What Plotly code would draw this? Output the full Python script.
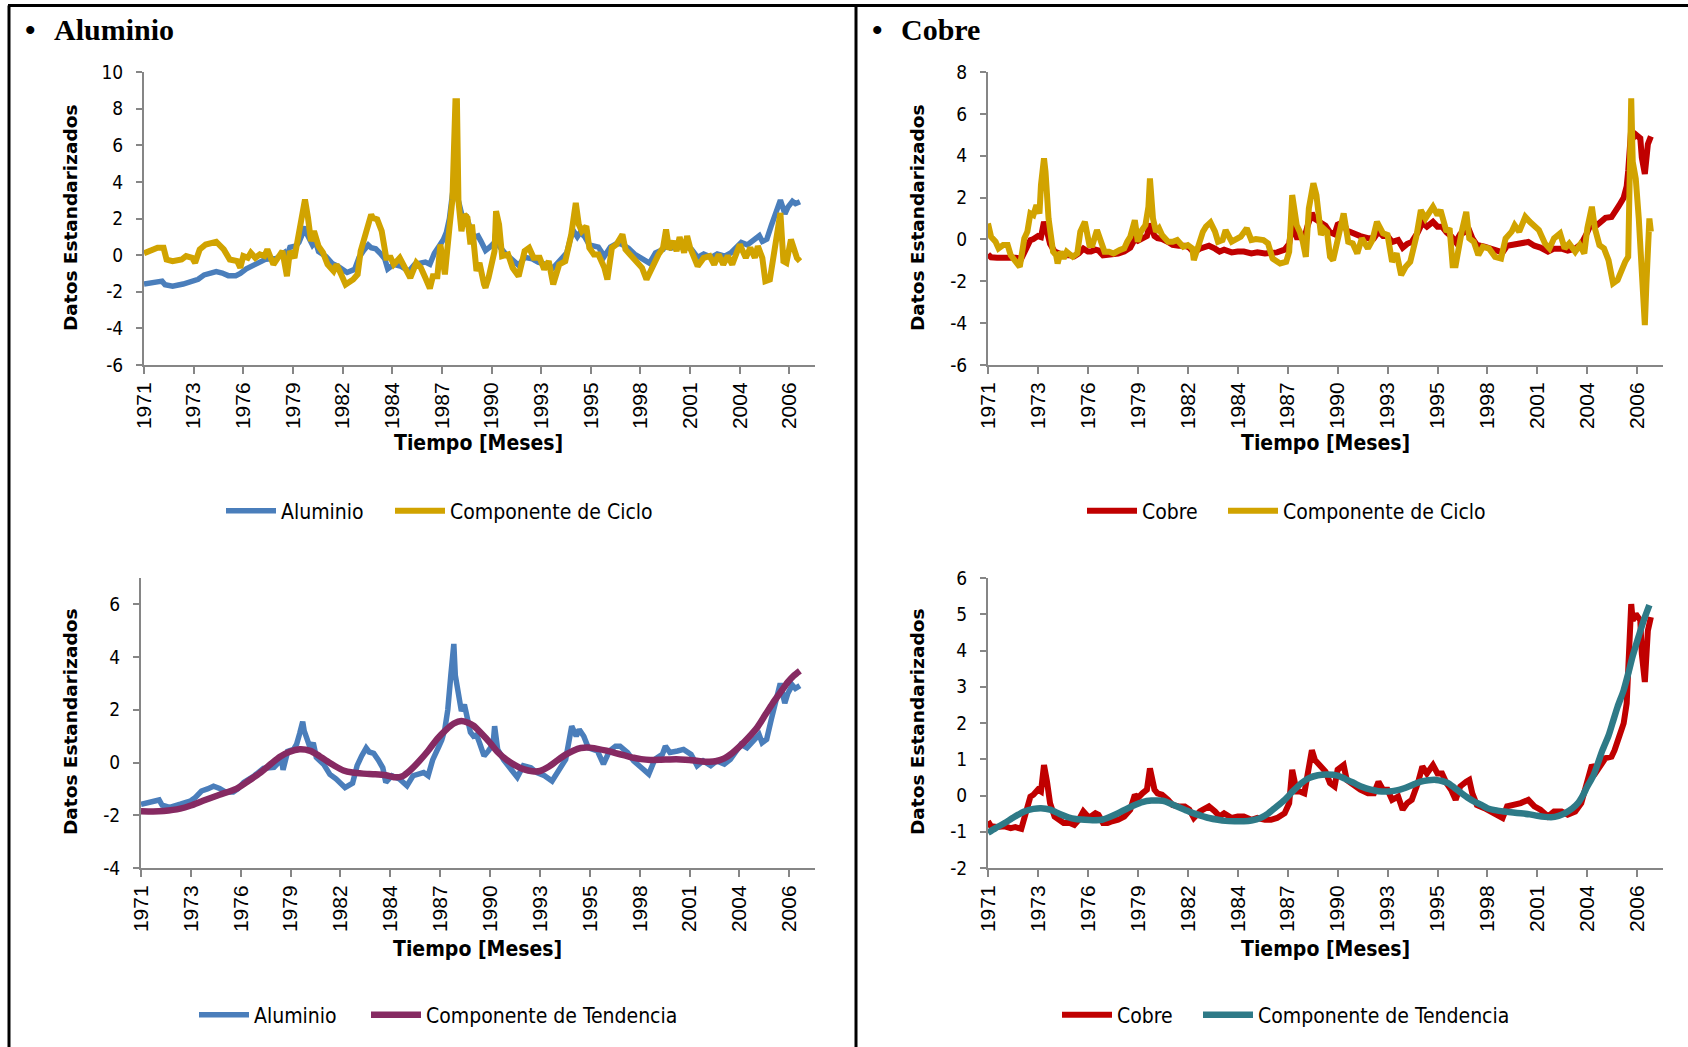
import plotly.graph_objects as go

# ---------------- data (month index since Jan-1971, standardized values) -------------
tick_months = [0, 33, 66, 99, 132, 165, 198, 231, 264, 297, 330, 363, 396, 429]
tick_years = ["1971", "1973", "1976", "1979", "1982", "1984", "1987", "1990",
              "1993", "1995", "1998", "2001", "2004", "2006"]

al_months = [0, 4, 8, 12, 14, 19, 26, 33, 36, 40,
             44, 48, 52, 56, 61, 64, 68, 75, 81, 88,
             91, 93, 94, 97, 101, 103, 105, 107, 108, 110,
             112, 114, 116, 121, 125, 129, 132, 135, 140, 143,
             146, 149, 151, 154, 157, 160, 162, 166, 171, 176,
             180, 184, 187, 190, 193, 197, 199, 201, 203, 205,
             207, 208, 209, 210, 212, 214, 216, 218, 220, 222,
             224, 227, 230, 233, 234, 236, 240, 245, 249, 253,
             258, 262, 267, 272, 277, 281, 285, 288, 290, 293,
             296, 302, 306, 310, 314, 317, 322, 326, 331, 336,
             340, 345, 347, 350, 355, 359, 364, 368, 372, 377,
             381, 386, 390, 394, 397, 401, 405, 409, 411, 414,
             417, 420, 423, 426, 428, 431, 433, 436]
al_vals = [-1.58, -1.52, -1.47, -1.42, -1.62, -1.70, -1.58, -1.45, -1.32, -1.08,
           -1.0, -0.9, -0.98, -1.12, -1.12, -1.0, -0.75, -0.5, -0.22, -0.18,
           0.0, 0.12, -0.28, 0.42, 0.5, 0.7, 1.1, 1.55, 1.2, 0.85,
           0.55, 0.75, 0.2, -0.08, -0.45, -0.62, -0.8, -0.95, -0.78, -0.12,
           0.25, 0.55, 0.4, 0.35, 0.1, -0.2, -0.75, -0.5, -0.62, -0.88,
           -0.5, -0.4, -0.38, -0.5, 0.1, 0.6, 0.85, 1.25, 2.0, 3.3,
           4.5, 3.3, 2.9, 2.4, 1.95, 2.2, 1.6, 1.15, 1.0, 1.05,
           0.75, 0.25, 0.45, 0.7, 1.38, 0.5, 0.1, -0.25, -0.56, -0.12,
           -0.2, -0.38, -0.5, -0.7, -0.2, 0.12, 1.38, 1.0, 1.25, 1.0,
           0.56, 0.44, -0.06, 0.44, 0.62, 0.62, 0.38, 0.06, -0.19, -0.44,
           0.12, 0.31, 0.62, 0.38, 0.44, 0.5, 0.31, -0.12, 0.06, -0.12,
           0.06, -0.06, 0.12, 0.44, 0.69, 0.56, 0.81, 1.06, 0.75, 0.88,
           1.62, 2.25, 3.0, 2.25, 2.62, 2.94, 2.81, 2.92]

al_trend_months = [0, 8, 15, 26, 33, 41, 52, 63, 71, 79,
                   86, 92, 98, 105, 112, 118, 123, 128, 134, 140,
                   147, 155, 162, 168, 173, 178, 184, 190, 196, 202,
                   207, 212, 216, 220, 225, 231, 236, 242, 248, 253,
                   259, 264, 270, 275, 281, 286, 291, 296, 302, 308,
                   314, 320, 326, 331, 337, 344, 350, 357, 363, 370,
                   376, 381, 386, 391, 396, 402, 408, 413, 418, 423,
                   428, 432, 436]
al_trend_vals = [-1.85, -1.86, -1.84, -1.75, -1.63, -1.45, -1.22, -1.0, -0.7, -0.38,
                 -0.05, 0.22, 0.4, 0.5, 0.44, 0.25, 0.06, -0.12, -0.3, -0.38,
                 -0.42, -0.44, -0.48, -0.56, -0.52, -0.3, 0.05, 0.45, 0.9, 1.25,
                 1.48, 1.58, 1.52, 1.4, 1.12, 0.75, 0.4, 0.1, -0.12, -0.25,
                 -0.33, -0.32, -0.15, 0.06, 0.3, 0.45, 0.55, 0.57, 0.52, 0.45,
                 0.36, 0.27, 0.18, 0.13, 0.1, 0.11, 0.12, 0.12, 0.1, 0.05,
                 0.03, 0.06, 0.16, 0.35, 0.6, 0.95, 1.35, 1.8, 2.25, 2.65,
                 3.05, 3.3, 3.48]

al_cycle_months = [0, 6, 9, 13, 15, 19, 25, 28, 32, 34,
                   37, 41, 45, 48, 53, 57, 62, 64, 66, 69,
                   71, 74, 77, 80, 82, 86, 89, 92, 95, 97,
                   100, 103, 106, 107, 109, 111, 113, 116, 119, 122,
                   126, 128, 131, 134, 139, 142, 144, 148, 151, 152,
                   155, 158, 161, 164, 166, 170, 173, 175, 177, 181,
                   184, 187, 190, 192, 195, 197, 200, 203, 205, 207,
                   208, 209, 211, 213, 215, 217, 218, 221, 223, 226,
                   227, 229, 233, 234, 236, 238, 242, 245, 249, 253,
                   256, 259, 263, 266, 269, 272, 276, 280, 284, 287,
                   289, 291, 294, 296, 299, 302, 306, 308, 311, 314,
                   318, 320, 323, 328, 331, 334, 338, 342, 345, 347,
                   349, 352, 354, 356, 359, 361, 363, 365, 368, 372,
                   376, 379, 382, 385, 388, 391, 394, 396, 400, 403,
                   406, 408, 411, 413, 416, 418, 421, 423, 425, 427,
                   430, 432, 434, 436]
al_cycle_vals = [0.1, 0.25, 0.4, 0.4, -0.24, -0.33, -0.24, -0.05, -0.15, -0.42,
                 0.31, 0.58, 0.67, 0.73, 0.31, -0.24, -0.33, -0.69, -0.05, -0.15,
                 0.13, -0.15, 0.04, -0.05, 0.31, -0.51, -0.15, 0.22, -1.15, 0.22,
                 -0.15, 1.31, 2.4, 3.04, 2.04, 0.76, 1.31, 0.49, 0.13, -0.51,
                 -0.87, -0.51, -1.05, -1.6, -1.33, -1.05, 0.22, 1.4, 2.22, 2.04,
                 1.95, 1.31, -0.15, -0.15, -0.51, -0.15, -0.6, -0.78, -1.24, -0.42,
                 -0.69, -1.24, -1.82, -1.15, -1.15, 0.58, -1.05, 1.49, 3.04, 8.4,
                 8.4, 2.95, 1.31, 2.22, 2.04, 0.58, 1.67, -0.87, -0.42, -1.6,
                 -1.78, -1.24, 0.22, 2.4, 1.67, -0.05, 0.04, -0.69, -1.15, 0.22,
                 0.4, -0.15, -0.15, -0.78, -0.33, -1.6, -0.51, -0.33, 1.13, 2.85,
                 1.67, 1.31, 1.58, 0.4, 0.04, 0.04, -0.69, -1.33, 0.4, 0.58,
                 1.13, 0.31, 0.04, -0.33, -0.69, -1.33, -0.6, 0.04, 0.4, 1.4,
                 0.31, 0.76, 0.22, 0.98, 0.13, 1.04, 0.4, 0.04, -0.6, -0.15,
                 -0.05, -0.51, 0.04, -0.51, -0.05, -0.51, 0.13, 0.58, -0.15, 0.4,
                 -0.15, 0.49, -0.15, -1.42, -1.33, -0.33, 0.95, 2.3, -0.33, -0.42,
                 0.85, 0.31, -0.15, -0.33]

cu_months = [0, 2, 6, 11, 15, 18, 22, 25, 28, 30,
             33, 35, 37, 39, 41, 44, 47, 50, 54, 57,
             60, 63, 66, 68, 71, 73, 76, 79, 82, 86,
             90, 94, 97, 99, 102, 105, 107, 110, 112, 115,
             119, 122, 126, 130, 133, 136, 140, 143, 146, 150,
             153, 156, 161, 165, 169, 174, 178, 183, 187, 191,
             196, 199, 201, 204, 206, 209, 211, 214, 216, 218,
             220, 223, 226, 229, 231, 235, 237, 242, 246, 251,
             255, 258, 261, 264, 267, 271, 274, 277, 280, 284,
             287, 290, 294, 297, 300, 303, 306, 309, 312, 316,
             318, 320, 323, 328, 332, 337, 340, 343, 348, 352,
             357, 361, 365, 370, 374, 379, 383, 388, 392, 396,
             399, 402, 405, 408, 412, 414, 417, 420, 422, 423,
             425, 426, 428, 431, 432, 434, 436, 438]
cu_vals = [-0.71, -0.85, -0.87, -0.85, -0.9, -0.87, -0.92, -0.44, -0.03, 0.02,
           0.16, 0.11, 0.84, 0.38, -0.21, -0.58, -0.67, -0.76, -0.76, -0.81,
           -0.67, -0.44, -0.58, -0.58, -0.49, -0.53, -0.76, -0.76, -0.71, -0.67,
           -0.58, -0.39, 0.02, -0.07, 0.06, 0.16, 0.75, 0.16, 0.06, 0.02,
           -0.12, -0.26, -0.3, -0.3, -0.39, -0.62, -0.44, -0.39, -0.3, -0.44,
           -0.58, -0.49, -0.62, -0.58, -0.58, -0.67, -0.62, -0.67, -0.67, -0.62,
           -0.49, -0.21, 0.71, 0.11, 0.11, 0.06, 0.61, 1.25, 0.98, 0.89,
           0.84, 0.66, 0.34, 0.25, 0.71, 0.84, 0.43, 0.25, 0.16, 0.06,
           0.06, 0.38, 0.16, 0.16, -0.12, -0.03, -0.39, -0.21, -0.12, 0.34,
           0.8, 0.61, 0.84, 0.61, 0.61, 0.34, 0.16, -0.12, 0.25, 0.38,
           0.43, 0.06, -0.26, -0.35, -0.44, -0.58, -0.62, -0.3, -0.26, -0.21,
           -0.12, -0.3, -0.39, -0.58, -0.44, -0.44, -0.53, -0.44, -0.21, 0.34,
           0.84, 0.66, 0.84, 1.03, 1.07, 1.25, 1.62, 1.99, 2.54, 3.27,
           5.28, 4.83, 5.01, 4.83, 3.91, 3.13, 4.55, 4.92]

cu_trend_months = [0, 5, 11, 17, 24, 30, 35, 41, 47, 53,
                   58, 64, 69, 75, 80, 86, 91, 97, 102, 108,
                   113, 117, 123, 130, 135, 141, 146, 152, 157, 163,
                   169, 174, 180, 185, 190, 196, 201, 207, 212, 218,
                   224, 231, 236, 242, 247, 253, 258, 264, 270, 275,
                   281, 286, 291, 296, 300, 304, 308, 313, 317, 321,
                   326, 330, 336, 341, 347, 352, 358, 363, 368, 372,
                   377, 381, 386, 390, 393, 396, 400, 403, 406, 410,
                   413, 416, 420, 423, 426, 430, 433, 437]
cu_trend_vals = [-1.03, -0.9, -0.76, -0.6, -0.44, -0.37, -0.35, -0.39, -0.5, -0.6,
                 -0.65, -0.67, -0.68, -0.67, -0.6, -0.49, -0.38, -0.26, -0.18, -0.14,
                 -0.14, -0.16, -0.27, -0.39, -0.48, -0.56, -0.62, -0.67, -0.7, -0.71,
                 -0.71, -0.69, -0.62, -0.5, -0.33, -0.12, 0.1, 0.34, 0.48, 0.56,
                 0.58, 0.55, 0.46, 0.34, 0.24, 0.16, 0.12, 0.11, 0.14, 0.2,
                 0.3, 0.38, 0.42, 0.43, 0.4, 0.34, 0.22, 0.06, -0.06, -0.16,
                 -0.26, -0.35, -0.41, -0.44, -0.47, -0.49, -0.52, -0.56, -0.59, -0.6,
                 -0.56, -0.49, -0.36, -0.2, 0.0, 0.25, 0.55, 0.89, 1.25, 1.65,
                 2.05, 2.45, 2.9, 3.36, 3.85, 4.4, 4.8, 5.25]

cu_cycle_months = [0, 2, 5, 7, 10, 13, 15, 18, 21, 24,
                   26, 28, 30, 32, 34, 35, 37, 38, 40, 43,
                   45, 46, 48, 50, 52, 56, 59, 61, 64, 67,
                   69, 72, 75, 77, 80, 83, 87, 90, 92, 94,
                   97, 99, 101, 104, 106, 107, 109, 111, 113, 115,
                   119, 122, 125, 129, 132, 135, 136, 139, 142, 144,
                   147, 150, 152, 155, 157, 161, 164, 167, 171, 174,
                   177, 182, 185, 188, 193, 197, 199, 201, 204, 206,
                   208, 210, 212, 215, 217, 218, 220, 222, 224, 226,
                   228, 231, 233, 235, 238, 241, 244, 247, 251, 254,
                   257, 261, 264, 267, 270, 273, 276, 279, 283, 286,
                   289, 294, 297, 299, 303, 305, 307, 309, 313, 316,
                   318, 321, 324, 327, 331, 335, 339, 342, 346, 348,
                   351, 355, 358, 361, 364, 368, 371, 374, 378, 381,
                   384, 388, 391, 394, 396, 399, 401, 404, 407, 410,
                   413, 416, 418, 421, 423, 425, 426, 428, 430, 432,
                   434, 435, 437, 438]
cu_cycle_vals = [0.76, 0.13, -0.11, -0.43, -0.27, -0.27, -0.75, -1.07, -1.31, 0.05,
                 0.37, 1.24, 1.16, 1.64, 1.24, 2.6, 3.87, 3.23, 1.0, -0.59,
                 -0.75, -1.15, -0.59, -0.91, -0.59, -0.83, -0.67, 0.37, 0.84, -0.27,
                 -0.27, 0.45, -0.11, -0.59, -0.59, -0.67, -0.51, -0.43, -0.11, 0.13,
                 0.92, -0.11, 0.37, 0.68, 1.56, 2.91, 1.0, 0.37, 0.53, 0.21,
                 -0.11, -0.11, -0.03, -0.35, -0.27, -0.43, -0.99, -0.27, 0.37, 0.61,
                 0.81, 0.37, -0.11, -0.03, 0.45, -0.11, 0.05, 0.13, 0.53, -0.03,
                 0.02, -0.03, -0.19, -0.91, -1.15, -1.07, -0.59, 2.12, 0.68, 0.37,
                 -0.11, -0.83, 1.48, 2.68, 2.12, 1.32, 0.21, 0.5, 0.37, -0.83,
                 -0.99, -0.03, 0.53, 1.24, -0.11, -0.19, -0.67, 0.05, -0.43, -0.03,
                 0.84, 0.29, 0.21, -1.07, -0.67, -1.7, -1.31, -1.07, 0.13, 1.4,
                 1.0, 1.56, 1.16, 1.4, 0.37, 0.53, -1.23, -1.23, 0.37, 1.32,
                 0.05, -0.11, -0.75, -0.35, -0.43, -0.83, -0.91, 0.05, 0.37, 0.68,
                 0.37, 1.08, 0.84, 0.68, 0.45, -0.19, -0.43, 0.05, 0.29, -0.43,
                 -0.19, -0.59, -0.27, -0.67, 0.53, 1.56, 0.53, -0.27, -0.43, -0.99,
                 -2.1, -1.94, -1.54, -1.07, -0.83, 6.74, 3.71, 2.91, 1.0, -1.23,
                 -4.09, -2.18, 1.0, 0.37]

y_tl_ticks = [-6, -4, -2, 0, 2, 4, 6, 8, 10]
y_tr_ticks = [-6, -4, -2, 0, 2, 4, 6, 8]
y_bl_ticks = [-4, -2, 0, 2, 4, 6]
y_br_ticks = [-2, -1, 0, 1, 2, 3, 4, 5, 6]

# ---------------- styling ----------------
W, H = 1688, 1047
BLUE = "#4A7EBB"
GOLD = "#D1A300"
PLUM = "#862A62"
RED = "#C00000"
TEAL = "#2E7A87"
AXC = "#868686"
NARROW = "DejaVu Sans Condensed, DejaVu Sans, sans-serif"
TICKX = "Liberation Sans, Arial, sans-serif"
BOLDSANS = "DejaVu Sans, Verdana, sans-serif"
SERIF = "Liberation Serif, Times New Roman, serif"


def fx(px):
    return px / W


def fy(py):
    return 1 - py / H


fig = go.Figure()


def add(xs, ys, name, color, width, xa, ya, legend, shape="linear"):
    fig.add_trace(go.Scatter(
        x=xs, y=ys, name=name, mode="lines",
        line=dict(color=color, width=width, shape=shape, smoothing=0.6 if shape == "spline" else None),
        xaxis=xa, yaxis=ya, legend=legend, hoverinfo="skip"))


add(al_months, al_vals, "Aluminio", BLUE, 5.5, "x", "y", "legend")
add(al_cycle_months, al_cycle_vals, "Componente de Ciclo", GOLD, 6, "x", "y", "legend2")
add(cu_months, cu_vals, "Cobre", RED, 6, "x2", "y2", "legend3")
add(cu_cycle_months, cu_cycle_vals, "Componente de Ciclo", GOLD, 6, "x2", "y2", "legend4")
add(al_months, al_vals, "Aluminio", BLUE, 5.5, "x3", "y3", "legend5")
add(al_trend_months, al_trend_vals, "Componente de Tendencia", PLUM, 6.5, "x3", "y3", "legend6", "spline")
add(cu_months, cu_vals, "Cobre", RED, 6, "x4", "y4", "legend7")
add(cu_trend_months, cu_trend_vals, "Componente de Tendencia", TEAL, 6.5, "x4", "y4", "legend8", "spline")


def xaxis(dom, anchor):
    return dict(domain=dom, anchor=anchor, range=[0, 446], tickmode="array",
                tickvals=tick_months, ticktext=tick_years, tickangle=-90,
                ticks="outside", ticklen=7, tickwidth=2, tickcolor=AXC,
                showline=True, linecolor=AXC, linewidth=2, showgrid=False,
                zeroline=False, automargin=False,
                tickfont=dict(family=TICKX, size=21, color="#000"),
                fixedrange=True)


def yaxis(dom, anchor, rng, ticks):
    return dict(domain=dom, anchor=anchor, range=rng, tickmode="array",
                tickvals=ticks, ticktext=[str(t) for t in ticks],
                ticks="outside", ticklen=6, tickwidth=2, tickcolor=AXC,
                showline=True, linecolor=AXC, linewidth=2, showgrid=False,
                zeroline=False, ticklabelstandoff=9, automargin=False,
                tickfont=dict(family=NARROW, size=19, color="#000"),
                fixedrange=True)


top_dom = [fy(365), fy(72)]
bot_dom = [fy(868), fy(578)]
left_dom = [fx(144), fx(815)]
right_dom = [fx(988), fx(1663)]

fig.update_layout(
    template="none",
    width=W, height=H, autosize=False,
    margin=dict(l=0, r=0, t=0, b=0, pad=0, autoexpand=False),
    paper_bgcolor="white", plot_bgcolor="white",
    showlegend=True,
    xaxis=xaxis(left_dom, "y"),
    yaxis=yaxis(top_dom, "x", [-6, 10], y_tl_ticks),
    xaxis2=xaxis(right_dom, "y2"),
    yaxis2=yaxis(top_dom, "x2", [-6, 8], y_tr_ticks),
    xaxis3=xaxis([fx(141), fx(815)], "y3"),
    yaxis3=yaxis(bot_dom, "x3", [-4, 7], y_bl_ticks),
    xaxis4=xaxis(right_dom, "y4"),
    yaxis4=yaxis(bot_dom, "x4", [-2, 6], y_br_ticks),
)

legfont = dict(family=NARROW, size=21, color="#000")
legend_spots = [("legend", 221, 511), ("legend2", 390, 511),
                ("legend3", 1082, 511), ("legend4", 1223, 511),
                ("legend5", 194, 1015), ("legend6", 366, 1015),
                ("legend7", 1057, 1015), ("legend8", 1198, 1015)]
for key, lx, ly in legend_spots:
    fig.layout[key] = dict(orientation="h", x=fx(lx), y=fy(ly), xanchor="left",
                           yanchor="middle", font=legfont, bgcolor="rgba(0,0,0,0)",
                           itemwidth=50, borderwidth=0)

ann = []
for cx, cy in [(70, 218), (917, 218), (70, 722), (917, 722)]:
    ann.append(dict(text="Datos Estandarizados", x=fx(cx), y=fy(cy), xref="paper", yref="paper",
                    textangle=-90, showarrow=False, xanchor="center", yanchor="middle",
                    font=dict(family=BOLDSANS, size=18.5, color="#000", weight="bold")))
for cx, cy in [(479, 443), (1325, 443), (477, 949), (1325, 949)]:
    ann.append(dict(text="Tiempo [Meses]", x=fx(cx), y=fy(cy), xref="paper", yref="paper",
                    showarrow=False, xanchor="center", yanchor="middle",
                    font=dict(family=NARROW, size=21, color="#000", weight="bold")))
for bx, tx, label in [(30, 52, "Aluminio"), (877, 899, "Cobre")]:
    ann.append(dict(text="•", x=fx(bx), y=fy(29), xref="paper", yref="paper",
                    showarrow=False, xanchor="center", yanchor="middle",
                    font=dict(family=SERIF, size=30, color="#000", weight="bold")))
    ann.append(dict(text=label, x=fx(tx), y=fy(29), xref="paper", yref="paper",
                    showarrow=False, xanchor="left", yanchor="middle",
                    font=dict(family=SERIF, size=30, color="#000", weight="bold")))
fig.update_layout(annotations=ann)

shapes = [
    dict(type="line", xref="paper", yref="paper", x0=fx(8), x1=1, y0=fy(5.5), y1=fy(5.5),
         line=dict(color="#000", width=3)),
    dict(type="line", xref="paper", yref="paper", x0=fx(9), x1=fx(9), y0=0, y1=fy(5.5),
         line=dict(color="#000", width=3)),
    dict(type="line", xref="paper", yref="paper", x0=fx(856), x1=fx(856), y0=0, y1=fy(5.5),
         line=dict(color="#000", width=3)),
]
fig.update_layout(shapes=shapes)

fig.write_html("out.html", config={"displayModeBar": False},
               post_script="document.body.style.margin='0';document.body.style.overflow='hidden';")
